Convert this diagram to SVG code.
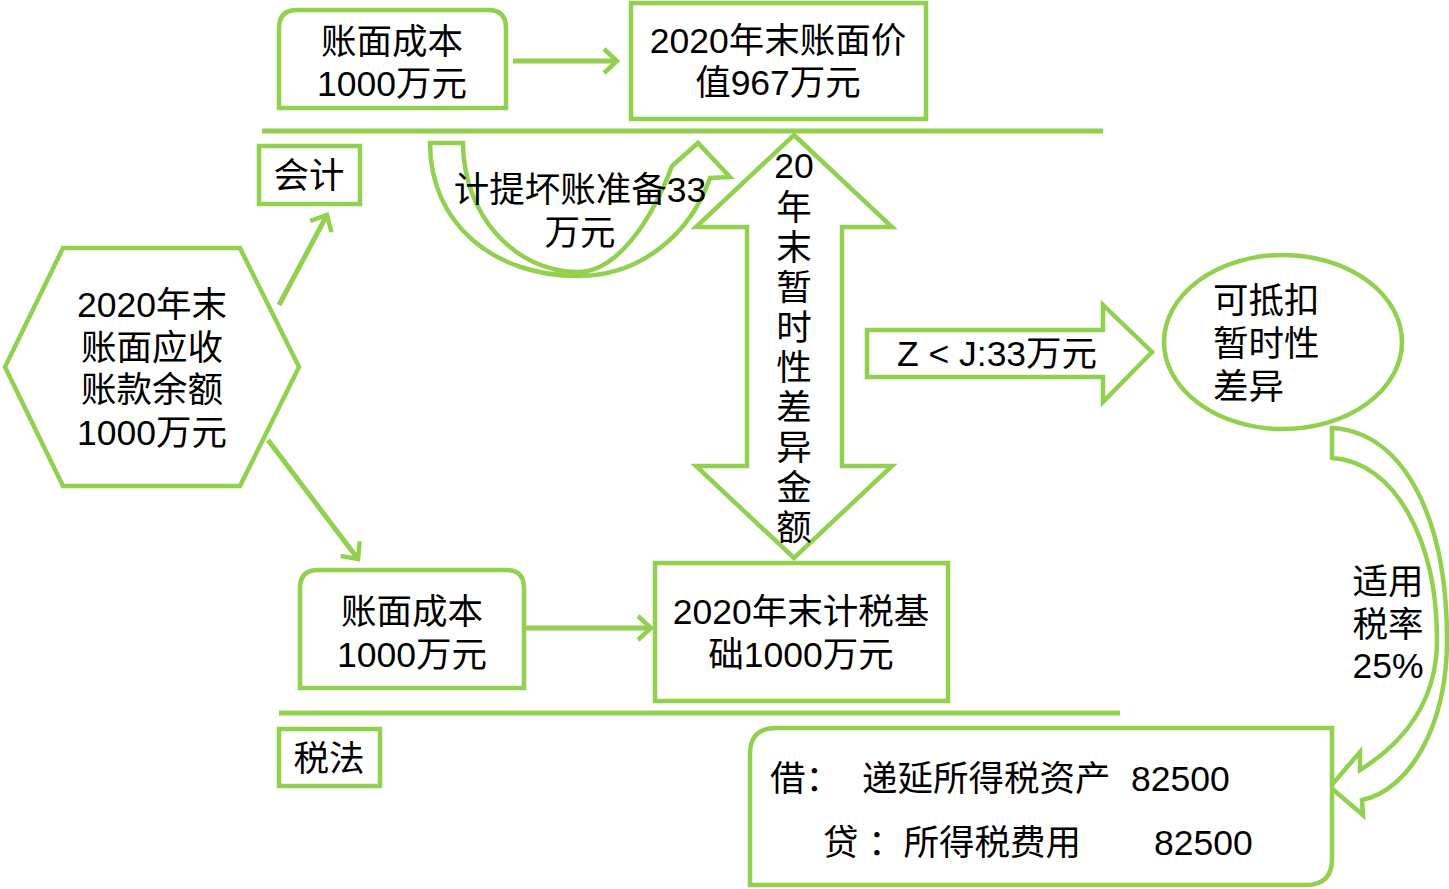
<svg xmlns="http://www.w3.org/2000/svg" width="1449" height="889" viewBox="0 0 1449 889">
<style>
.s{fill:#fff;stroke:#92D050;stroke-width:4.5}
.l{stroke:#92D050;stroke-width:5;fill:none}
.t{font-family:"Liberation Sans","Noto Sans CJK SC",sans-serif;font-size:35.5px;fill:#000;text-anchor:middle;dominant-baseline:central}
.ts{font-family:"Liberation Sans","Noto Sans CJK SC",sans-serif;font-size:35.5px;fill:#000;dominant-baseline:central}
.tv{font-family:"Noto Sans CJK SC","Noto Sans",sans-serif;font-size:35.5px;fill:#000;writing-mode:vertical-rl;letter-spacing:4.5px}
</style>
<defs>
<marker id="chev" markerUnits="userSpaceOnUse" markerWidth="20" markerHeight="30" refX="15" refY="14" orient="auto" viewBox="0 0 20 30">
<path d="M2,2 L15,14 L2,26" fill="none" stroke="#92D050" stroke-width="4.5"/>
</marker>
</defs>
<g id="connectors">
<line class="l" x1="262" y1="131" x2="1103" y2="131"/>
<line class="l" x1="279" y1="713" x2="1120" y2="713"/>
<line class="l" x1="513" y1="61" x2="617" y2="61" marker-end="url(#chev)"/>
<line class="l" x1="279" y1="305" x2="327" y2="215" marker-end="url(#chev)"/>
<line class="l" x1="268" y1="440" x2="358" y2="559" marker-end="url(#chev)"/>
<line class="l" x1="524" y1="628" x2="651" y2="628" marker-end="url(#chev)"/>
</g>
<g id="node-hex">
<polygon class="s" points="5,367 63,248 240,248 299,367 240,486 63,486"/>
<text class="t"><tspan x="152" y="305">2020年末</tspan><tspan x="152" y="348">账面应收</tspan><tspan x="152" y="390">账款余额</tspan><tspan x="152" y="433">1000万元</tspan></text>
</g>
<g id="node-cost-acc">
<path class="s" d="M279,108 L279,28 Q279,10 297,10 L488,10 Q506,10 506,28 L506,108 Z"/>
<text class="t"><tspan x="392" y="42">账面成本</tspan><tspan x="392" y="84">1000万元</tspan></text>
</g>
<g id="node-book-value">
<rect class="s" x="631" y="3" width="295" height="116"/>
<text class="t"><tspan x="778" y="41">2020年末账面价</tspan><tspan x="778" y="83">值967万元</tspan></text>
</g>
<g id="node-kuaiji">
<rect class="s" x="259" y="146" width="101" height="58"/>
<text class="t" x="309" y="176">会计</text>
</g>
<g id="node-provision">
<path class="s" d="M430,143 L463,143 C463,215 515,272 578,272 C615,272 650,225 672,166 L698,143 L730,177 L710,178 C690,235 640,276 578,276 C495,276 430,225 430,143 Z"/>
<text class="t"><tspan x="580" y="190">计提坏账准备33</tspan><tspan x="580" y="233">万元</tspan></text>
</g>
<g id="node-diff">
<polygon class="s" points="794,135 892,227 842,227 842,466 892,466 794,558 696,466 747,466 747,227 696,227"/>
<text class="t" x="794" y="166">20</text>
<text class="tv" x="794" y="189">年末暂时性差异金额</text>
</g>
<g id="node-zj">
<polygon class="s" points="867,330 1103,330 1103,305 1152,352 1103,402 1103,377 867,377"/>
<text class="t" x="997" y="354">Z &lt; J:33万元</text>
</g>
<g id="node-deductible">
<ellipse class="s" cx="1283" cy="342" rx="119" ry="87"/>
<text class="ts"><tspan x="1213" y="301">可抵扣</tspan><tspan x="1213" y="344">暂时性</tspan><tspan x="1213" y="387">差异</tspan></text>
</g>
<g id="node-rate">
<path class="s" d="M1332,428 C1405,432 1447,520 1447,640 C1447,725 1410,790 1362,800 L1363,815 L1330,787 L1360,752 L1360,770 C1405,742 1437,700 1437,640 C1437,540 1395,462 1332,458 Z"/>
<text class="t"><tspan x="1388" y="582">适用</tspan><tspan x="1388" y="625">税率</tspan><tspan x="1388" y="666">25%</tspan></text>
</g>
<g id="node-cost-tax">
<path class="s" d="M300,688 L300,588 Q300,570 318,570 L506,570 Q524,570 524,588 L524,688 Z"/>
<text class="t"><tspan x="412" y="612">账面成本</tspan><tspan x="412" y="655">1000万元</tspan></text>
</g>
<g id="node-tax-basis">
<rect class="s" x="655" y="563" width="293" height="138"/>
<text class="t"><tspan x="801" y="612">2020年末计税基</tspan><tspan x="801" y="655">础1000万元</tspan></text>
</g>
<g id="node-shuifa">
<rect class="s" x="279" y="729" width="101" height="57"/>
<text class="t" x="329" y="759">税法</text>
</g>
<g id="node-entry">
<path class="s" d="M776,728 L1332,728 L1332,859 Q1332,885 1306,885 L750,885 L750,754 Q750,728 776,728 Z"/>
<text class="ts" x="770" y="779">借：</text>
<text class="ts" x="862" y="779">递延所得税资产</text>
<text class="ts" x="1131" y="779">82500</text>
<text class="ts" x="823" y="843">贷</text>
<text class="ts" x="868" y="843">：所得税费用</text>
<text class="ts" x="1154" y="843">82500</text>
</g>
</svg>
